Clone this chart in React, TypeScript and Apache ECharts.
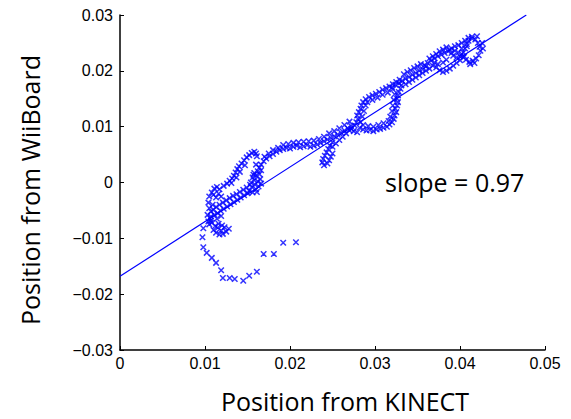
import React, { useEffect, useRef } from "react";
import * as echarts from "echarts";

// Axis ticks
const xTicks = [0, 0.01, 0.02, 0.03, 0.04, 0.05];
const yTicks = [-0.03, -0.02, -0.01, 0, 0.01, 0.02, 0.03];

// Fitted line end points (slope = 0.97)
const fitLine: [number, number][] = [
  [0, -0.0168],
  [0.0478, 0.03],
];
const slopeLabel = "slope = 0.97";

// Scatter points (KINECT x, WiiBoard y)
const tailPoints: [number, number][] = [
  [0.0207, -0.0107], [0.0192, -0.0108], [0.0181, -0.0128], [0.0169, -0.0128],
  [0.0161, -0.016], [0.0152, -0.0167], [0.0145, -0.0176], [0.0135, -0.0173],
  [0.0129, -0.0171], [0.0121, -0.0171], [0.0119, -0.0157], [0.0113, -0.0144],
  [0.0108, -0.0135], [0.0102, -0.0126], [0.0098, -0.0116], [0.0097, -0.0098],
  [0.0098, -0.0082],
];
const lowerLoopPoints: [number, number][] = [
  [0.011, -0.0085], [0.0113, -0.009], [0.0117, -0.0093], [0.0121, -0.0092],
  [0.0125, -0.0088], [0.0128, -0.0083], [0.0115, -0.0081], [0.0119, -0.0086],
  [0.0123, -0.008], [0.0112, -0.0078], [0.0108, -0.0072], [0.0105, -0.0075],
  [0.0107, -0.0068], [0.0116, -0.0074], [0.012, -0.0077],
];
const leftColumnPoints: [number, number][] = [
  [0.0104, -0.007], [0.0106, -0.0064], [0.0103, -0.0058], [0.0107, -0.0052],
  [0.0105, -0.0046], [0.0109, -0.004], [0.0104, -0.0036],
  [0.0105, -0.0025], [0.0108, -0.0018], [0.0111, -0.0011], [0.0114, -0.0008],
  [0.0117, -0.0012], [0.011, -0.0022], [0.0113, -0.0027], [0.0116, -0.002],
  [0.0119, -0.0025],
];
const risingArmPoints: [number, number][] = [
  [0.0122, -0.0006], [0.0126, -0.0002], [0.0129, 0.0003], [0.0132, 0.0007],
  [0.0134, 0.0012], [0.0136, 0.0018], [0.0138, 0.0024], [0.014, 0.0029],
  [0.0143, 0.0034], [0.0146, 0.004], [0.0149, 0.0045], [0.0152, 0.0049],
  [0.0155, 0.0053], [0.0158, 0.0055], [0.016, 0.0052], [0.0161, 0.0047],
  [0.016, 0.0032], [0.0164, 0.0027], [0.0131, -0.0001], [0.0137, 0.0009],
  [0.0141, 0.0019], [0.0147, 0.0031],
];
const columnPoints: [number, number][] = [
  [0.0152, -0.0015], [0.0156, -0.0018], [0.016, -0.0012], [0.0155, -0.0008],
  [0.0159, -0.0004], [0.0163, -0.0007], [0.0154, 0.0], [0.0158, 0.0004],
  [0.0162, 0.0002], [0.0165, 0.0006], [0.0156, 0.0009], [0.016, 0.0012],
  [0.0164, 0.0015], [0.0158, 0.0017], [0.0162, 0.002], [0.0166, 0.0022],
  [0.0153, -0.0004], [0.0161, -0.0017], [0.0166, -0.0002], [0.0157, 0.0014],
];
const lowerArmPoints: [number, number][] = [
  [0.0107, -0.0061], [0.0111, -0.0058], [0.0115, -0.0055], [0.0118, -0.005],
  [0.0122, -0.0047], [0.0126, -0.0043], [0.013, -0.0039], [0.0134, -0.0035],
  [0.0138, -0.0031], [0.0142, -0.0027], [0.0146, -0.0023], [0.015, -0.0019],
  [0.0113, -0.0044], [0.0117, -0.004], [0.0121, -0.0036], [0.0125, -0.0032],
  [0.0129, -0.0028], [0.0133, -0.0024], [0.0137, -0.0021], [0.0141, -0.0017],
  [0.0145, -0.0013], [0.0149, -0.0009], [0.011, -0.0049], [0.0114, -0.0065],
  [0.0119, -0.006],
];
const upperPathPoints: [number, number][] = [
  [0.0166, 0.0032], [0.0169, 0.0038], [0.0172, 0.0043], [0.0176, 0.0047],
  [0.018, 0.0051], [0.0184, 0.0055], [0.0188, 0.0058], [0.0192, 0.006],
  [0.0196, 0.0062], [0.02, 0.0061], [0.0204, 0.0064], [0.0208, 0.0066],
  [0.0212, 0.0063], [0.0216, 0.0065], [0.022, 0.0067], [0.0224, 0.0064],
  [0.0228, 0.0066], [0.0232, 0.0068], [0.0236, 0.0071], [0.024, 0.0074],
  [0.0244, 0.0077], [0.0248, 0.008], [0.0252, 0.0083], [0.0256, 0.0086],
  [0.026, 0.0089], [0.0264, 0.0093], [0.0268, 0.0097], [0.0272, 0.0101],
  [0.025, 0.0064], [0.0254, 0.007], [0.0258, 0.0076], [0.0262, 0.0082],
  [0.0266, 0.0088], [0.027, 0.0093],
];
const upperPathOuterPoints: [number, number][] = [
  [0.017, 0.0046], [0.0175, 0.0052], [0.018, 0.0058], [0.0186, 0.0062],
  [0.0192, 0.0067], [0.0198, 0.0069], [0.0204, 0.0071], [0.021, 0.0072],
  [0.0216, 0.0073], [0.0222, 0.0074], [0.0228, 0.0075], [0.0234, 0.0078],
  [0.024, 0.0082], [0.0246, 0.0088], [0.0252, 0.0092], [0.0258, 0.0097],
  [0.0264, 0.0103], [0.027, 0.0109],
];
const hookPoints: [number, number][] = [
  [0.025, 0.0072], [0.0247, 0.0066], [0.0245, 0.006], [0.0243, 0.0054],
  [0.0241, 0.0048], [0.0239, 0.0042], [0.0238, 0.0036], [0.024, 0.0031],
  [0.0244, 0.0034], [0.0246, 0.004], [0.0248, 0.0046], [0.025, 0.0052],
];
const middleLoopPoints: [number, number][] = [
  [0.0276, 0.0102], [0.0278, 0.0108], [0.028, 0.0114], [0.0279, 0.012],
  [0.0281, 0.0126], [0.0283, 0.0132], [0.0284, 0.0138], [0.0286, 0.0144],
  [0.0289, 0.0149], [0.0293, 0.0153], [0.0297, 0.0156], [0.0301, 0.0159],
  [0.0305, 0.0162], [0.0309, 0.0166], [0.0313, 0.0169], [0.0317, 0.0172],
  [0.0321, 0.0176], [0.0325, 0.018], [0.0329, 0.0184], [0.0282, 0.0098],
  [0.0286, 0.0095], [0.029, 0.0093], [0.0294, 0.0094], [0.0298, 0.0092],
  [0.0302, 0.0095], [0.0306, 0.0096], [0.031, 0.0098], [0.0314, 0.01],
  [0.0317, 0.0104], [0.032, 0.0108], [0.0322, 0.0114], [0.0323, 0.012],
  [0.0325, 0.0126], [0.0324, 0.0132], [0.0326, 0.0138], [0.0327, 0.0144],
  [0.0326, 0.015], [0.0327, 0.0156], [0.0328, 0.0162], [0.033, 0.0168],
  [0.0331, 0.0174], [0.0272, 0.0096], [0.0275, 0.0092], [0.0279, 0.009],
];
const middleLoopInnerPoints: [number, number][] = [
  [0.0291, 0.0144], [0.0297, 0.0148], [0.0303, 0.0152], [0.0309, 0.0157],
  [0.0315, 0.0161], [0.0321, 0.0167], [0.0286, 0.0103], [0.0292, 0.0101],
  [0.0298, 0.01], [0.0304, 0.0103], [0.031, 0.0106], [0.0316, 0.011],
  [0.0283, 0.0108], [0.0285, 0.0118], [0.0287, 0.0128], [0.0289, 0.0138],
  [0.0318, 0.0118], [0.032, 0.0128], [0.0321, 0.0138], [0.0322, 0.0148],
  [0.0323, 0.0158],
];
const upperBandPoints: [number, number][] = [
  [0.032, 0.017], [0.0324, 0.0175], [0.0328, 0.0178], [0.0332, 0.0182],
  [0.0336, 0.0186], [0.034, 0.0189], [0.0344, 0.0193], [0.0348, 0.0196],
  [0.0352, 0.02], [0.0356, 0.0203], [0.0336, 0.0176], [0.034, 0.018],
  [0.0344, 0.0184], [0.0348, 0.0188], [0.0352, 0.0192],
  [0.0358, 0.021], [0.0362, 0.0214], [0.0366, 0.0218], [0.037, 0.0222],
  [0.0374, 0.0226], [0.0378, 0.0229], [0.0382, 0.0232], [0.0386, 0.0235],
  [0.039, 0.0232], [0.0394, 0.0236], [0.0398, 0.0233], [0.0402, 0.023],
  [0.036, 0.02], [0.0364, 0.0204], [0.0368, 0.0209], [0.0372, 0.0206],
  [0.0376, 0.0201], [0.038, 0.0198], [0.0384, 0.02], [0.0388, 0.0204],
  [0.0392, 0.0209], [0.0396, 0.0214], [0.04, 0.0219], [0.0404, 0.0224],
  [0.038, 0.0215], [0.0384, 0.022], [0.0374, 0.0212], [0.037, 0.0215],
  [0.0334, 0.0194], [0.0338, 0.0198], [0.0342, 0.0201], [0.0346, 0.0205],
  [0.035, 0.0208], [0.0354, 0.0212], [0.0356, 0.0196], [0.036, 0.0208],
  [0.0364, 0.0222], [0.0368, 0.0226], [0.0372, 0.023], [0.0376, 0.0235],
  [0.038, 0.0238], [0.0384, 0.0242], [0.0388, 0.0238], [0.0392, 0.0227],
  [0.0396, 0.0224], [0.04, 0.0226],
];
const rightLoopPoints: [number, number][] = [
  [0.0406, 0.024], [0.0408, 0.0248], [0.041, 0.0254], [0.0414, 0.0258],
  [0.0418, 0.0256], [0.0421, 0.025], [0.0423, 0.0243], [0.0424, 0.0236],
  [0.0422, 0.0228], [0.0419, 0.0222], [0.0415, 0.0218], [0.0411, 0.0216],
  [0.0407, 0.022], [0.0405, 0.0226], [0.0404, 0.0233], [0.0412, 0.0212],
  [0.0417, 0.0214], [0.039, 0.024], [0.0394, 0.0244], [0.0398, 0.0246],
  [0.0402, 0.025], [0.0406, 0.0254], [0.041, 0.0259], [0.0414, 0.0261],
  [0.0427, 0.024], [0.0426, 0.025], [0.042, 0.0262], [0.0408, 0.0244],
  [0.0402, 0.024],
];

const BLUE = "#0000ff";
const FONT = "'Liberation Sans', Arial, sans-serif";
const TITLE_FONT = "'Open Sans', Lato, sans-serif";

const fmt = (v: number) => {
  if (Math.abs(v) < 1e-9) return "0";
  return String(+v.toFixed(2)).replace("-", "\u2212");
};

export default function App() {
  const ref = useRef<HTMLDivElement>(null);
  useEffect(() => {
    if (!ref.current) return;
    const chart = echarts.init(ref.current, undefined, { renderer: "svg" });
    const points = [
      ...tailPoints, ...lowerLoopPoints, ...leftColumnPoints, ...risingArmPoints,
      ...columnPoints, ...lowerArmPoints, ...upperPathPoints, ...upperPathOuterPoints,
      ...hookPoints, ...middleLoopPoints, ...middleLoopInnerPoints,
      ...upperBandPoints, ...rightLoopPoints,
    ];
    const axisCommon = {
      axisLine: { show: true, onZero: false, lineStyle: { color: "#000", width: 1.5 } },
      axisTick: { show: true, inside: true, length: 4, lineStyle: { color: "#000", width: 1 } },
      splitLine: { show: false },
    };
    chart.setOption({
      animation: false,
      backgroundColor: "#fff",
      grid: { left: 120, right: 26, top: 15, bottom: 69, containLabel: false },
      xAxis: {
        type: "value",
        min: xTicks[0],
        max: xTicks[xTicks.length - 1],
        interval: 0.01,
        ...axisCommon,
        axisLabel: { formatter: fmt, color: "#000", fontSize: 16, fontFamily: FONT, margin: 5 },
      },
      yAxis: {
        type: "value",
        min: yTicks[0],
        max: yTicks[yTicks.length - 1],
        interval: 0.01,
        ...axisCommon,
        axisLabel: { formatter: fmt, color: "#000", fontSize: 16, fontFamily: FONT, margin: 7 },
      },
      graphic: [
        {
          type: "text",
          x: 345, y: 401,
          style: {
            text: "Position from KINECT", font: `25px ${TITLE_FONT}`, fill: "#000",
            align: "center", verticalAlign: "middle",
          },
        },
        {
          type: "text",
          x: 30, y: 190, rotation: Math.PI / 2,
          style: {
            text: "Position from WiiBoard", font: `25px ${TITLE_FONT}`, fill: "#000",
            align: "center", verticalAlign: "middle",
          },
        },
        {
          type: "text",
          x: 385, y: 182,
          style: {
            text: slopeLabel, font: `25px ${TITLE_FONT}`, fill: "#000",
            align: "left", verticalAlign: "middle",
          },
        },
      ],
      series: [
        {
          type: "scatter",
          data: points,
          symbol: "path://M0,0L10,10M10,0L0,10",
          symbolSize: 5.5,
          itemStyle: { color: "rgba(0,0,0,0)", borderColor: BLUE, borderWidth: 1.5 },
          z: 2,
        },
        {
          type: "line",
          data: fitLine,
          symbol: "none",
          lineStyle: { color: BLUE, width: 1.2 },
          z: 3,
        },
      ],
    });
    return () => chart.dispose();
  }, []);
  return (
    <div
      ref={ref}
      style={{ position: "fixed", left: 0, top: 0, width: 571, height: 419 }}
    />
  );
}
